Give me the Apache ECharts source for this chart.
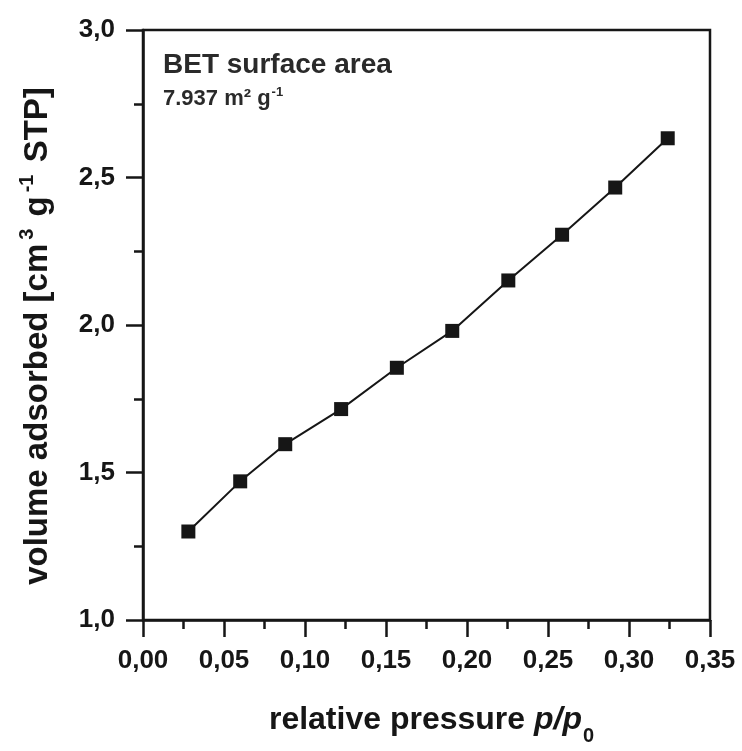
<!DOCTYPE html>
<html>
<head>
<meta charset="utf-8">
<title>BET isotherm</title>
<script src="https://cdn.jsdelivr.net/npm/echarts@6/dist/echarts.min.js"></script>
<style>
  html, body { margin: 0; padding: 0; background: #fff; }
  #chart { width: 742px; height: 751px; }
</style>
</head>
<body>
<div id="chart"></div>
<script>
// Relative pressure p/p0 and adsorbed volume (cm³ g⁻¹ STP)
const relativePressure = [0.028, 0.060, 0.0878, 0.1223, 0.1567, 0.1909, 0.2255, 0.2587, 0.2915, 0.3239];
const volumeAdsorbed   = [1.300, 1.470, 1.596, 1.715, 1.855, 1.980, 2.151, 2.306, 2.466, 2.633];

const xTicks = { min: 0, max: 0.35, step: 0.05 };
const yTicks = { min: 1.0, max: 3.0, step: 0.5 };

const annotationTitle = 'BET surface area';
const annotationValue = '7.937 m² g';

const ink = '#161616';
const fontFamily = '"Liberation Sans", Arial, sans-serif';

const points = relativePressure.map((p, i) => [p, volumeAdsorbed[i]]);

function axisCommon() {
  return {
    type: 'value',
    axisLine: { show: true, lineStyle: { color: ink, width: 2.5 } },
    axisTick: { show: true, inside: false, length: 17, lineStyle: { color: ink, width: 2.5 } },
    minorTick: { show: true, splitNumber: 2, length: 9, lineStyle: { color: ink, width: 2.5 } },
    splitLine: { show: false },
    minorSplitLine: { show: false },
    axisLabel: {
      fontFamily, fontSize: 26, fontWeight: 'bold', color: ink, margin: 28
    },
    nameTextStyle: { fontFamily, fontSize: 32, fontWeight: 'bold', color: ink }
  };
}

const xAxis = Object.assign(axisCommon(), {
  min: xTicks.min, max: xTicks.max, interval: xTicks.step,
  name: '{t|relative pressure }{i|p/p}{sub|0}',
  nameLocation: 'middle',
  nameGap: 80
});
xAxis.axisLabel.formatter = v => v.toFixed(2).replace('.', ',');
xAxis.nameTextStyle.padding = [0, 0, 0, 10];
xAxis.nameTextStyle.rich = {
  t: { fontFamily, fontSize: 32, fontWeight: 'bold', color: ink, lineHeight: 40, verticalAlign: 'middle' },
  i: { fontFamily, fontSize: 32, fontWeight: 'bold', fontStyle: 'italic', color: ink, lineHeight: 40, verticalAlign: 'middle' },
  sub: { fontFamily, fontSize: 20, fontWeight: 'bold', color: ink, lineHeight: 20, verticalAlign: 'bottom', padding: [0, 0, -6, 1] }
};

const yAxis = Object.assign(axisCommon(), {
  min: yTicks.min, max: yTicks.max, interval: yTicks.step,
  name: '{t|volume adsorbed [cm}{sup|3}{t| g}{sup|-1}{t| STP]}',
  nameLocation: 'middle',
  nameRotate: 90,
  nameGap: 84
});
yAxis.axisLabel.formatter = v => v.toFixed(1).replace('.', ',');
yAxis.nameTextStyle.padding = [0, 22, 0, 0];
yAxis.nameTextStyle.rich = {
  t: { fontFamily, fontSize: 33, fontWeight: 'bold', color: ink, lineHeight: 42, verticalAlign: 'middle' },
  sup: { fontFamily, fontSize: 20, fontWeight: 'bold', color: ink, lineHeight: 20, verticalAlign: 'top', padding: [0, 3, 0, 4] }
};

const chart = echarts.init(document.getElementById('chart'), null, { renderer: 'canvas' });
chart.setOption({
  animation: false,
  backgroundColor: '#fff',
  grid: {
    left: 143, right: 32, top: 30, bottom: 129,
    show: true, borderColor: ink, borderWidth: 2.5, backgroundColor: 'transparent'
  },
  title: {
    left: 158, top: 46,
    text: annotationTitle,
    subtext: '{v|' + annotationValue + '}{sup|-1}',
    itemGap: 7,
    textStyle: { fontFamily, fontSize: 28, fontWeight: 'bold', color: '#2a2a2a' },
    subtextStyle: {
      fontFamily, fontSize: 22, fontWeight: 'bold', color: '#2a2a2a',
      rich: {
        v: { fontFamily, fontSize: 22, fontWeight: 'bold', color: '#2a2a2a', lineHeight: 26, verticalAlign: 'middle' },
        sup: { fontFamily, fontSize: 13, fontWeight: 'bold', color: '#2a2a2a', lineHeight: 14, verticalAlign: 'top', padding: [0, 0, 0, 1] }
      }
    }
  },
  xAxis,
  yAxis,
  series: [{
    type: 'line',
    data: points,
    symbol: 'rect',
    symbolSize: 14,
    showAllSymbol: true,
    itemStyle: { color: ink },
    lineStyle: { color: ink, width: 2 },
    z: 3
  }]
});
</script>
</body>
</html>
